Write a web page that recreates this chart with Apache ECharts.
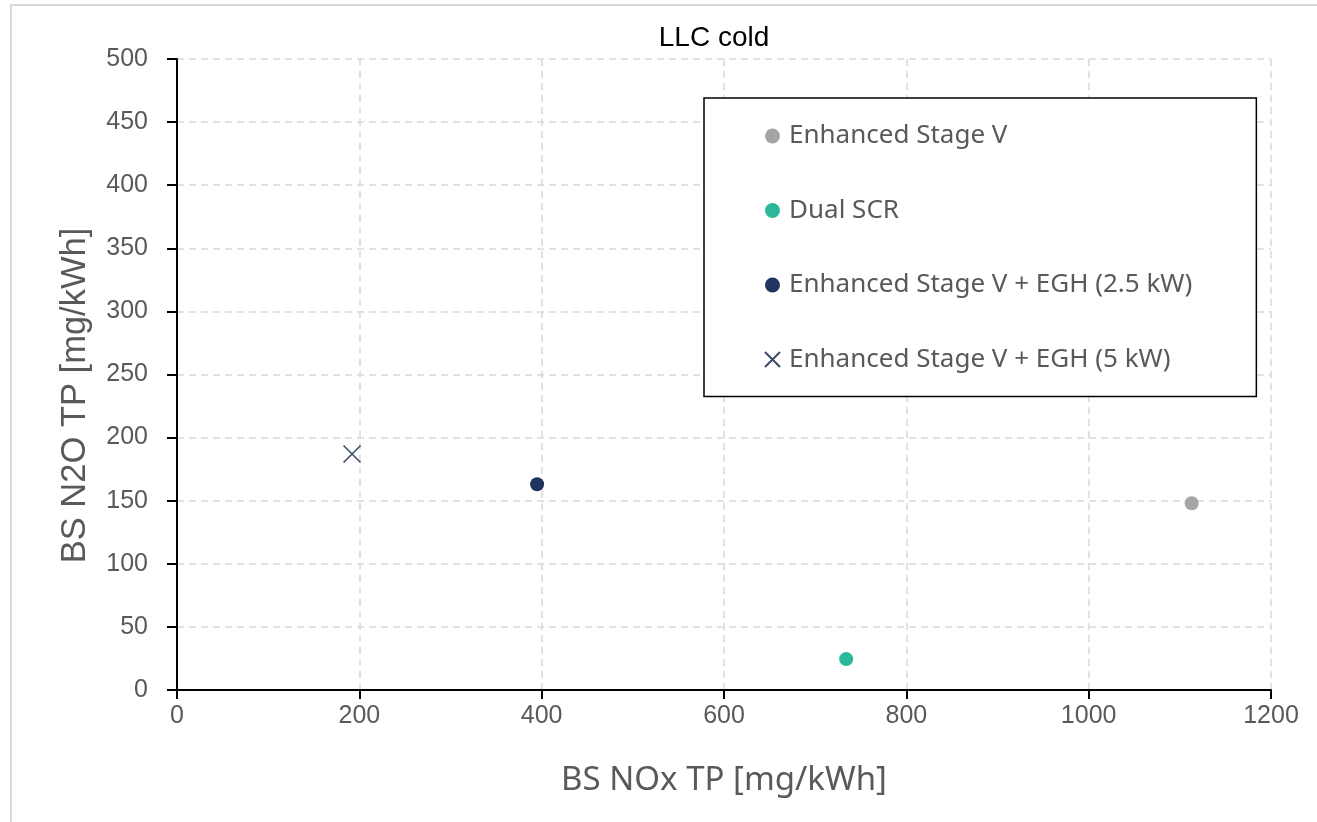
<!DOCTYPE html>
<html>
<head>
<meta charset="utf-8">
<script src="https://cdn.jsdelivr.net/npm/echarts@6/dist/echarts.min.js"></script>
<style>
  html, body { margin: 0; padding: 0; background: #fff; }
  #chart { width: 1317px; height: 822px; }
</style>
</head>
<body>
<div id="chart"></div>
<script>
// Scenario names, one marker each
const seriesNames = [
  'Enhanced Stage V',
  'Dual SCR',
  'Enhanced Stage V + EGH (2.5 kW)',
  'Enhanced Stage V + EGH (5 kW)'
];
// Brake-specific NOx, tailpipe [mg/kWh]
const noxValues = [1113, 734, 395, 192];
// Brake-specific N2O, tailpipe [mg/kWh]
const n2oValues = [148, 24.5, 163, 187];

const colors = ['#A5A5A5', '#2BB89A', '#1F3560', '#3B4A6B'];
const symbols = ['circle', 'circle', 'circle', 'path://M0,0L20,20M20,0L0,20'];

const grey = '#595959';
const sansUI = '"Noto Sans", "Open Sans", sans-serif';
const arial = '"Liberation Sans", Arial, sans-serif';

const series = seriesNames.map((name, i) => {
  const isCross = symbols[i] !== 'circle';
  return {
    name: name,
    type: 'scatter',
    data: [[noxValues[i], n2oValues[i]]],
    symbol: symbols[i],
    symbolSize: isCross ? 17 : 14,
    itemStyle: isCross
      ? { color: 'rgba(0,0,0,0)', borderColor: colors[i], borderWidth: 1.6, opacity: 1 }
      : { color: colors[i], opacity: 1 },
    emphasis: { disabled: true }
  };
});

const chart = echarts.init(document.getElementById('chart'), null, { renderer: 'canvas' });

chart.setOption({
  animation: false,
  backgroundColor: '#fff',
  title: {
    text: 'LLC cold',
    left: 709,
    top: 19,
    textAlign: 'center',
    textStyle: { fontFamily: arial, fontSize: 28, fontWeight: 'normal', color: '#000' }
  },
  // chart-area frame (top and left edges fall inside the canvas)
  graphic: [{
    type: 'polyline',
    shape: { points: [[11, 830], [11, 5], [1330, 5]] },
    style: { fill: null, stroke: '#D9D9D9', lineWidth: 2 },
    silent: true,
    z: -1
  }],
  grid: { left: 177, right: 46, top: 59, bottom: 132 },
  legend: {
    orient: 'vertical',
    left: 704,
    top: 98,
    padding: [25, 64, 24, 60],
    itemGap: 48.5,
    itemWidth: 15,
    itemHeight: 15,
    borderColor: '#000',
    borderWidth: 1.5,
    backgroundColor: '#fff',
    data: seriesNames,
    textStyle: { fontFamily: sansUI, fontSize: 26, lineHeight: 26, color: grey, padding: [0, 0, 0, 4] }
  },
  xAxis: {
    type: 'value',
    min: 0,
    max: 1200,
    interval: 200,
    name: 'BS NOx TP [mg/kWh]',
    nameLocation: 'middle',
    nameGap: 74,
    nameTextStyle: { fontFamily: sansUI, fontSize: 33, color: grey },
    axisLine: { show: true, onZero: false, lineStyle: { color: '#000', width: 2 } },
    axisTick: { show: true, length: 9, lineStyle: { color: '#000', width: 2 } },
    axisLabel: { fontFamily: arial, fontSize: 25, color: grey, margin: 14, formatter: v => String(v) },
    splitLine: { show: true, lineStyle: { color: '#D9D9D9', width: 1.5, type: [7, 5] } }
  },
  yAxis: {
    type: 'value',
    min: 0,
    max: 500,
    interval: 50,
    name: 'BS N2O TP [mg/kWh]',
    nameLocation: 'middle',
    nameGap: 84,
    nameTextStyle: { fontFamily: arial, fontSize: 34.5, color: grey, padding: [0, 42, 0, 0] },
    axisLine: { show: true, onZero: false, lineStyle: { color: '#000', width: 2 } },
    axisTick: { show: true, length: 10, lineStyle: { color: '#000', width: 2 } },
    axisLabel: { fontFamily: arial, fontSize: 25, color: grey, margin: 29, formatter: v => String(v) },
    splitLine: { show: true, lineStyle: { color: '#D9D9D9', width: 1.5, type: [7, 5] } }
  },
  series: series
});
</script>
</body>
</html>
